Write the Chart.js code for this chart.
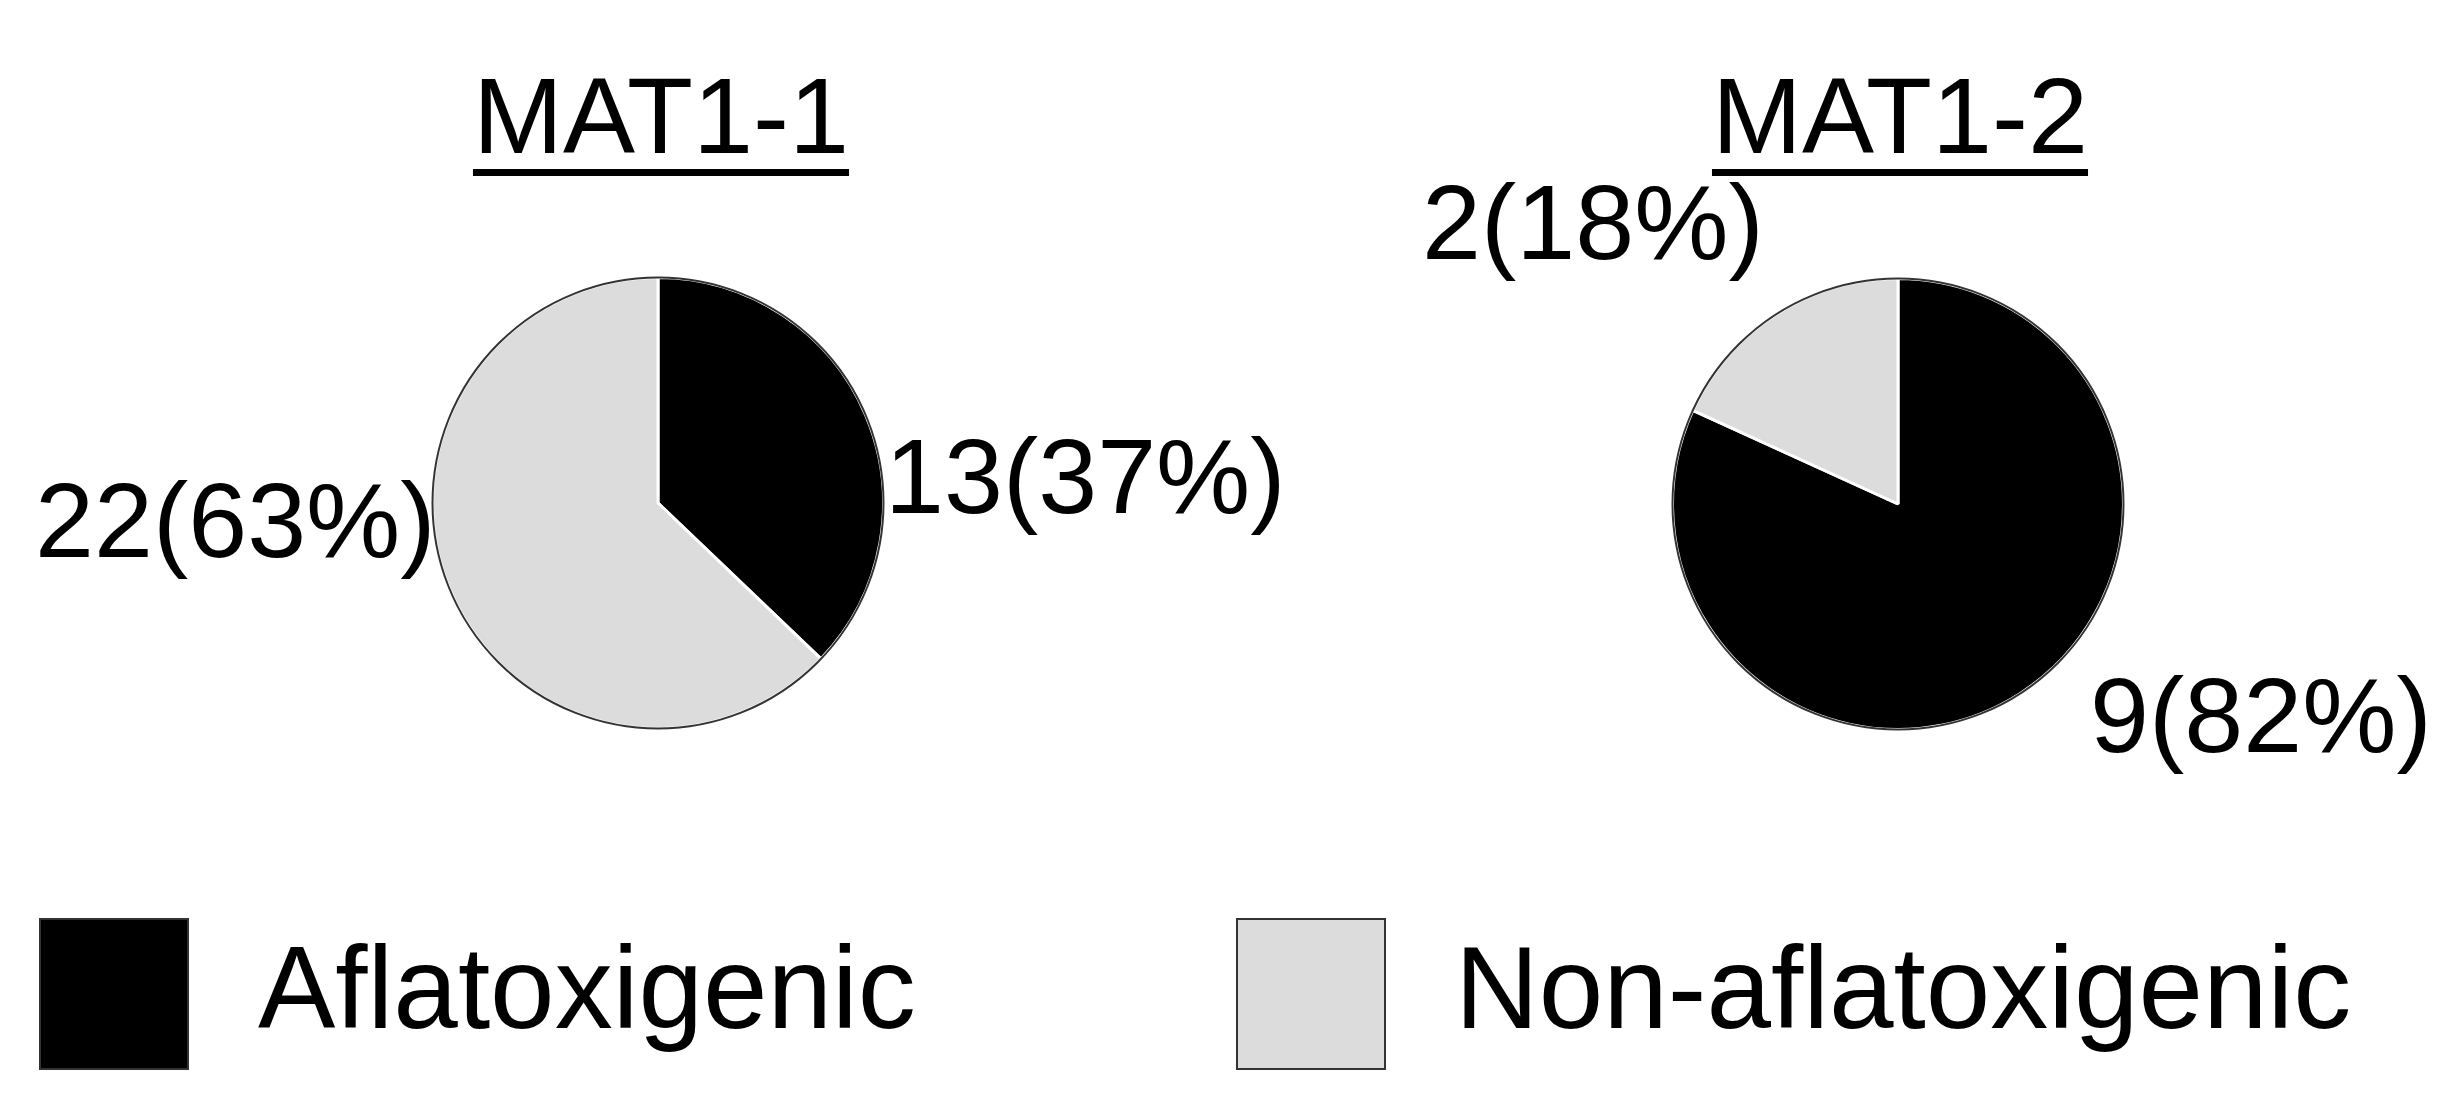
<!DOCTYPE html>
<html>
<head>
<script src="https://cdn.jsdelivr.net/npm/chart.js"></script>
<style>
body { margin:0; width:2455px; height:1102px; background:#fff; font-family:"Liberation Sans", Arial, sans-serif; position:relative; overflow:hidden; }
.t { position:absolute; color:#000; white-space:nowrap; line-height:1; }
.title { font-size:108px; text-decoration:underline; text-decoration-thickness:7px; text-underline-offset:16px; transform:translateX(-50%); }
.lbl { font-size:106px; transform:translateY(-50%); }
.box { position:absolute; border:2px solid #333; box-sizing:border-box; }
.pie { position:absolute; width:470px; height:470px; }
</style>
</head>
<body>
<div class="t title" style="left:661px; top:62px;">MAT1-1</div>
<div class="t title" style="left:1900px; top:62px;">MAT1-2</div>

<div class="pie" style="left:423px; top:268px;"><canvas id="pie1"></canvas></div>
<div class="pie" style="left:1663px; top:269px;"><canvas id="pie2"></canvas></div>

<div class="t lbl" style="left:885px; top:476px;">13(37%)</div>
<div class="t lbl" style="left:35px; top:520px;">22(63%)</div>
<div class="t lbl" style="left:1422px; top:222px;">2(18%)</div>
<div class="t lbl" style="left:2090px; top:715px;">9(82%)</div>

<div class="box" style="left:39px; top:918px; width:150px; height:152px; background:#000;"></div>
<div class="t" style="left:258px; top:930px; font-size:116px;">Aflatoxigenic</div>
<div class="box" style="left:1236px; top:918px; width:150px; height:152px; background:#dcdcdc;"></div>
<div class="t" style="left:1455px; top:930px; font-size:116px;">Non-aflatoxigenic</div>

<script>
var categories = ["Aflatoxigenic", "Non-aflatoxigenic"];
var mat11Values = [13, 22];
var mat12Values = [9, 2];
var colors = ["#000000", "#dcdcdc"];

function makePie(id, values) {
    new Chart(document.getElementById(id), {
        type: 'pie',
        data: {
            labels: categories,
            datasets: [{
                data: values,
                backgroundColor: colors,
                borderColor: "#ffffff",
                borderWidth: 3
            }]
        },
        options: {
            responsive: true,
            maintainAspectRatio: false,
            animation: false,
            layout: { padding: 8 },
            plugins: { legend: { display: false }, tooltip: { enabled: false } }
        },
        plugins: [{
            id: 'outline',
            afterDatasetsDraw: function (chart) {
                var arc = chart.getDatasetMeta(0).data[0];
                var ctx = chart.ctx;
                ctx.save();
                ctx.beginPath();
                ctx.arc(arc.x, arc.y, arc.outerRadius, 0, Math.PI * 2);
                ctx.lineWidth = 2;
                ctx.strokeStyle = "#333";
                ctx.stroke();
                ctx.restore();
            }
        }]
    });
}

makePie("pie1", mat11Values);
makePie("pie2", mat12Values);
</script>
</body>
</html>
